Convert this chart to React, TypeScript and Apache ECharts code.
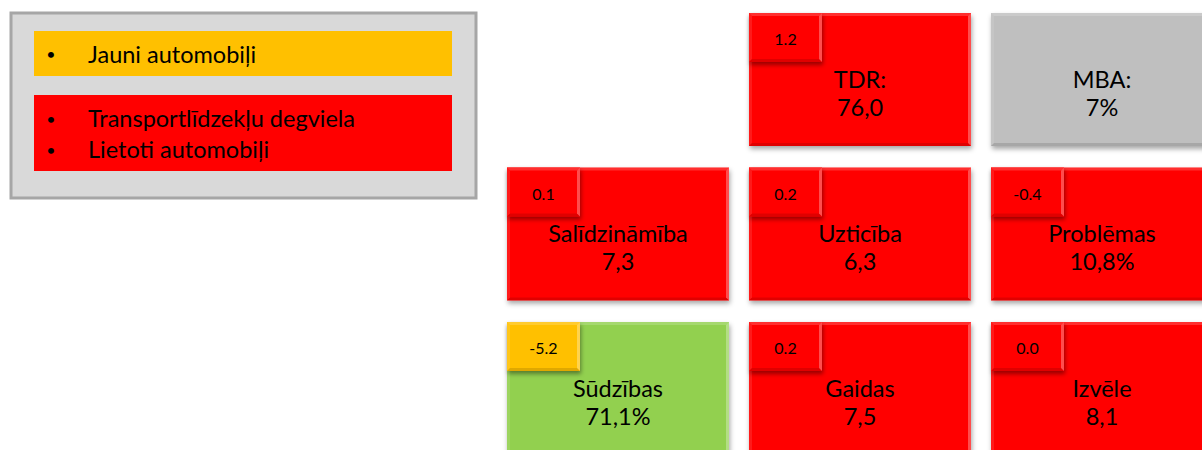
import React, { useEffect, useRef } from "react";
import * as echarts from "echarts";

// ---- data ----
const cellNames = ["TDR:", "MBA:", "Salīdzināmība", "Uzticība", "Problēmas", "Sūdzības", "Gaidas", "Izvēle"];
const cellValues = ["76,0", "7%", "7,3", "6,3", "10,8%", "71,1%", "7,5", "8,1"];
const cellCols = [1, 2, 0, 1, 2, 0, 1, 2];
const cellRows = [0, 0, 1, 1, 1, 2, 2, 2];
const cellStatus = ["red", "gray", "red", "red", "red", "green", "red", "red"];
const cellDeltas: (number | null)[] = [1.2, null, 0.1, 0.2, -0.4, -5.2, 0.2, 0.0];
const deltaStatus = ["red", null, "red", "red", "red", "yellow", "red", "red"];

const legendStatus = ["yellow", "red"];
const legendItems = [["Jauni automobiļi"], ["Transportlīdzekļu degviela", "Lietoti automobiļi"]];

// ---- styles ----
const statusColors: Record<string, string> = {
  red: "#ff0000",
  gray: "#bfbfbf",
  green: "#92d050",
  yellow: "#ffc000",
};
const FONT = "Lato, 'Open Sans', sans-serif";

function bevel(x: number, y: number, w: number, h: number, b: number) {
  return [
    { type: "polygon", shape: { points: [[x, y], [x + w, y], [x + w - b, y + b], [x + b, y + b]] }, style: { fill: "rgba(255,255,255,0.18)" } },
    { type: "polygon", shape: { points: [[x, y], [x + b, y + b], [x + b, y + h - b], [x, y + h]] }, style: { fill: "rgba(255,255,255,0.1)" } },
    { type: "polygon", shape: { points: [[x + w, y], [x + w, y + h], [x + w - b, y + h - b], [x + w - b, y + b]] }, style: { fill: "rgba(255,255,255,0.3)" } },
    { type: "polygon", shape: { points: [[x, y + h], [x + b, y + h - b], [x + w - b, y + h - b], [x + w, y + h]] }, style: { fill: "rgba(0,0,0,0.12)" } },
  ];
}

export default function App() {
  const ref = useRef<HTMLDivElement>(null);
  useEffect(() => {
    if (!ref.current) return;
    const chart = echarts.init(ref.current, undefined, { renderer: "svg" });

    const data = cellCols.map((c, i) => [c, cellRows[i], i]);

    const renderItem = (params: any, api: any) => {
      const i = api.value(2);
      const c = api.coord([api.value(0), api.value(1)]);
      const s = api.size([1, 1]);
      const w = s[0] * (222 / 242);
      const h = s[1] * (133 / 154.5);
      const x = c[0] - w / 2;
      const y = c[1] - h / 2;
      const children: any[] = [
        {
          type: "rect",
          shape: { x, y, width: w, height: h },
          style: {
            fill: statusColors[cellStatus[i]],
            shadowBlur: 5,
            shadowOffsetX: 1,
            shadowOffsetY: 3,
            shadowColor: "rgba(0,0,0,0.35)",
          },
        },
        ...bevel(x, y, w, h, 3),
        {
          type: "text",
          style: {
            text: cellNames[i],
            x: c[0],
            y: c[1] - 1,
            fill: "#000",
            font: `23.5px ${FONT}`,
            align: "center",
            verticalAlign: "middle",
          },
        },
        {
          type: "text",
          style: {
            text: cellValues[i],
            x: c[0],
            y: c[1] + 27,
            fill: "#000",
            font: `23.5px ${FONT}`,
            align: "center",
            verticalAlign: "middle",
          },
        },
      ];
      const d = cellDeltas[i];
      if (d !== null && d !== undefined) {
        const dw = 73;
        const dh = 49;
        children.push(
          {
            type: "rect",
            shape: { x, y, width: dw, height: dh },
            style: {
              fill: statusColors[deltaStatus[i] as string],
              shadowBlur: 4,
              shadowOffsetX: 1,
              shadowOffsetY: 3,
              shadowColor: "rgba(0,0,0,0.4)",
            },
          },
          ...bevel(x, y, dw, dh, 3),
          {
            type: "text",
            style: {
              text: d.toFixed(1),
              x: x + dw / 2,
              y: y + dh / 2 + 1,
              fill: "#000",
              font: `16px ${FONT}`,
              align: "center",
              verticalAlign: "middle",
            },
          }
        );
      }
      return { type: "group", children };
    };

    // legend panel
    const legendGraphics: any[] = [
      {
        type: "rect",
        shape: { x: 11, y: 13, width: 465, height: 185 },
        style: { fill: "#d9d9d9", stroke: "#a6a6a6", lineWidth: 3 },
      },
    ];
    const barTops = [31, 95];
    const barHeights = [45, 76];
    legendStatus.forEach((st, gi) => {
      legendGraphics.push({
        type: "rect",
        shape: { x: 34, y: barTops[gi], width: 418, height: barHeights[gi] },
        style: { fill: statusColors[st] },
      });
      legendItems[gi].forEach((t, li) => {
        const cy = gi === 0 ? 53.5 : 118 + li * 31;
        legendGraphics.push(
          {
            type: "text",
            style: { text: "•", x: 51, y: cy, fill: "#000", font: `16px ${FONT}`, align: "center", verticalAlign: "middle" },
          },
          {
            type: "text",
            style: { text: t, x: 88, y: cy, fill: "#000", font: `23.5px ${FONT}`, align: "left", verticalAlign: "middle" },
          }
        );
      });
    });

    chart.setOption({
      animation: false,
      backgroundColor: "#ffffff",
      grid: { left: 0, right: 0, top: 0, bottom: 0 },
      xAxis: { type: "value", min: -618 / 242, max: (1202 - 618) / 242, show: false },
      yAxis: { type: "value", inverse: true, min: -79.5 / 154.5, max: (450 - 79.5) / 154.5, show: false },
      graphic: legendGraphics,
      series: [
        {
          type: "custom",
          renderItem,
          data,
          clip: false,
        },
      ],
    });
    return () => chart.dispose();
  }, []);
  return (
    <div
      ref={ref}
      style={{ position: "absolute", left: 0, top: 0, width: 1202, height: 450 }}
    />
  );
}
